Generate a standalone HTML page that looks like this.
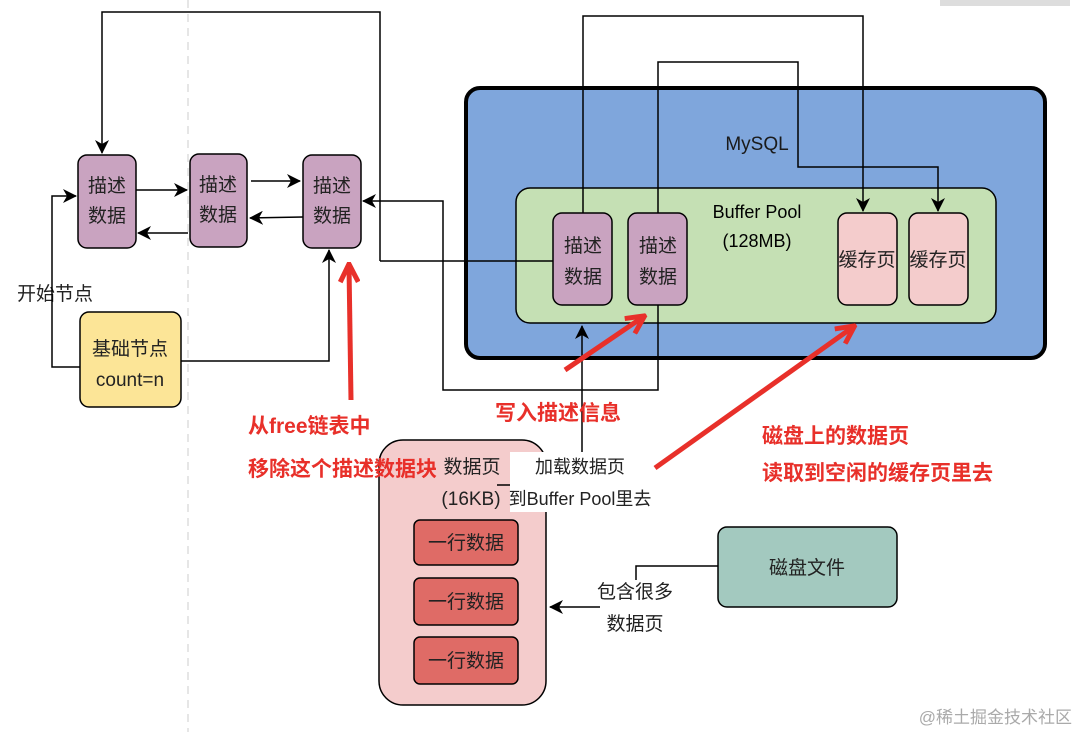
<!DOCTYPE html>
<html><head><meta charset="utf-8"><style>
body{margin:0;background:#fff;}
svg text{font-family:"Liberation Sans","Noto Sans CJK SC",sans-serif;}
</style></head><body>
<svg width="1079" height="732" viewBox="0 0 1079 732" xmlns="http://www.w3.org/2000/svg">
<defs>
<marker id="a" markerWidth="14" markerHeight="14" refX="13" refY="7" orient="auto" markerUnits="userSpaceOnUse"><path d="M0,0 L14,7 L0,14 L4,7 z" fill="#000"/></marker>
<marker id="r" markerWidth="22" markerHeight="22" refX="18" refY="11" orient="auto" markerUnits="userSpaceOnUse"><path d="M2,2 L20,11 L2,20" fill="none" stroke="#e8302a" stroke-width="5"/></marker>
</defs>
<rect x="940" y="0" width="130" height="6" fill="#ddd"/>
<line x1="188" y1="0" x2="188" y2="732" stroke="#ccc" stroke-dasharray="8,6"/>
<rect x="466" y="88" width="579" height="270" rx="14" fill="#7fa6dc" stroke="#000" stroke-width="4"/>
<text x="757" y="150" font-size="19" text-anchor="middle" fill="#1a1a1a">MySQL</text>
<rect x="516" y="188" width="480" height="135" rx="14" fill="#c5e0b4" stroke="#000" stroke-width="1.5"/>
<text x="757" y="218" font-size="18" text-anchor="middle">Buffer Pool</text>
<text x="757" y="247" font-size="18" text-anchor="middle">(128MB)</text>
<g stroke="#000" stroke-width="1.5">
<rect x="553" y="213" width="59" height="92" rx="9" fill="#c9a3c0"/>
<rect x="628" y="213" width="59" height="92" rx="9" fill="#c9a3c0"/>
<rect x="838" y="213" width="59" height="92" rx="9" fill="#f4cccc"/>
<rect x="909" y="213" width="59" height="92" rx="9" fill="#f4cccc"/>
<rect x="78" y="155" width="58" height="93" rx="9" fill="#c9a3c0"/>
<rect x="190" y="154" width="57" height="93" rx="9" fill="#c9a3c0"/>
<rect x="303" y="155" width="58" height="93" rx="9" fill="#c9a3c0"/>
<rect x="80" y="312" width="101" height="95" rx="9" fill="#fce597"/>
<rect x="379" y="440" width="167" height="265" rx="24" fill="#f4cccc"/>
<rect x="414" y="520" width="104" height="45" rx="6" fill="#df6b66"/>
<rect x="414" y="578" width="104" height="47" rx="6" fill="#df6b66"/>
<rect x="414" y="637" width="104" height="47" rx="6" fill="#df6b66"/>
<rect x="718" y="527" width="179" height="80" rx="9" fill="#a3c9bf"/>
</g>
<g font-size="19" text-anchor="middle" fill="#222">
<text x="583" y="252">描述</text><text x="583" y="283">数据</text>
<text x="658" y="252">描述</text><text x="658" y="283">数据</text>
<text x="867" y="266">缓存页</text><text x="938" y="266">缓存页</text>
<text x="107" y="192">描述</text><text x="107" y="222">数据</text>
<text x="218" y="191">描述</text><text x="218" y="221">数据</text>
<text x="332" y="192">描述</text><text x="332" y="222">数据</text>
<text x="130" y="355">基础节点</text><text x="130" y="386">count=n</text>
<text x="466" y="549">一行数据</text><text x="466" y="608">一行数据</text><text x="466" y="667">一行数据</text>
<text x="807" y="574">磁盘文件</text>
<text x="55" y="300">开始节点</text>
<text x="472" y="473">数据页</text><text x="471" y="505">(16KB)</text>
<text x="635" y="598">包含很多</text><text x="635" y="630">数据页</text>
</g>
<g fill="none" stroke="#000" stroke-width="1.5">
<polyline points="380,261 380,12 102,12 102,153" marker-end="url(#a)"/>
<line x1="380" y1="261" x2="553" y2="261"/>
<line x1="136" y1="190" x2="187" y2="190" marker-end="url(#a)"/>
<line x1="188" y1="233" x2="138" y2="233" marker-end="url(#a)"/>
<line x1="251" y1="181" x2="300" y2="181" marker-end="url(#a)"/>
<line x1="303" y1="217" x2="250" y2="218" marker-end="url(#a)"/>
<polyline points="658,305 658,390 443,390 443,201 363,201" marker-end="url(#a)"/>
<polyline points="583,213 583,16 863,16 863,211" marker-end="url(#a)"/>
<polyline points="658,213 658,62 798,62 798,167 938,167 938,211" marker-end="url(#a)"/>
<polyline points="80,367 52,367 52,196 76,196" marker-end="url(#a)"/>
<polyline points="181,361 329,361 329,250" marker-end="url(#a)"/>
<line x1="582" y1="455" x2="582" y2="326" marker-end="url(#a)"/>
<polyline points="718,566 636,566 636,580"/>
<line x1="600" y1="607" x2="550" y2="607" marker-end="url(#a)"/>
</g>
<rect x="510" y="452" width="140" height="60" fill="#fff"/>
<line x1="497" y1="485" x2="510" y2="485" stroke="#000" stroke-width="1.5"/>
<g font-size="18" text-anchor="middle" fill="#222">
<text x="580" y="473">加载数据页</text><text x="580" y="505">到Buffer Pool里去</text>
</g>
<g stroke="#e8302a" stroke-width="5" fill="none">
<line x1="351" y1="400" x2="349" y2="266" marker-end="url(#r)"/>
<line x1="565" y1="370" x2="643" y2="317" marker-end="url(#r)"/>
<line x1="655" y1="468" x2="853" y2="327" marker-end="url(#r)"/>
</g>
<g font-size="21" fill="#e8302a" font-weight="bold">
<text x="248" y="433">从free链表中</text>
<text x="248" y="476">移除这个描述数据块</text>
<text x="495" y="420">写入描述信息</text>
<text x="762" y="443">磁盘上的数据页</text>
<text x="762" y="480">读取到空闲的缓存页里去</text>
</g>
<text x="1072" y="723" font-size="17" text-anchor="end" fill="#aaa">@稀土掘金技术社区</text>
</svg>
</body></html>
